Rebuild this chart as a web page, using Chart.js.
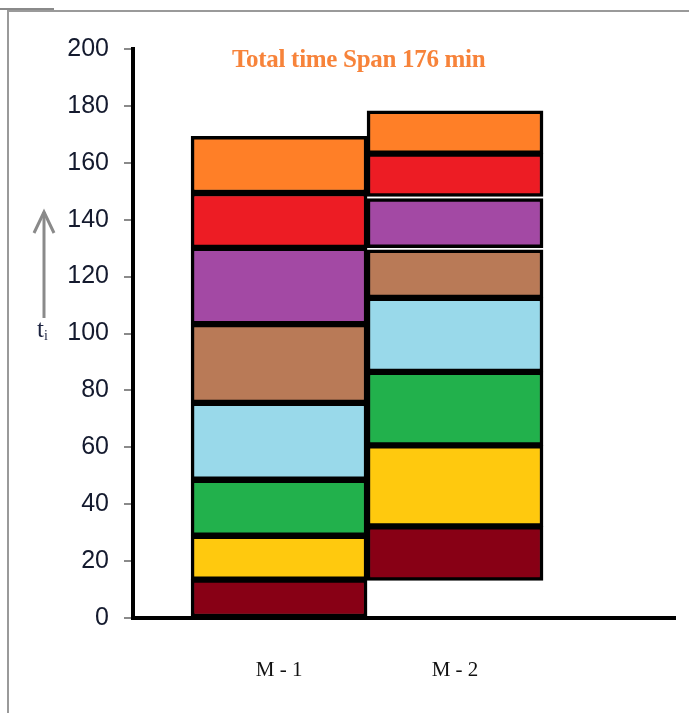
<!DOCTYPE html>
<html>
<head>
<meta charset="utf-8">
<title>Gantt M-1 / M-2</title>
<script src="https://cdn.jsdelivr.net/npm/chart.js@4.4.0/dist/chart.umd.min.js"></script>
<style>
  body{margin:0;background:#fff;}
  #wrap{position:relative;width:689px;height:713px;overflow:hidden;}
  #frame{position:absolute;left:7px;top:10px;width:700px;height:720px;border-left:2px solid #9a9a9a;border-top:2px solid #9a9a9a;}
  #corner{position:absolute;left:0;top:8px;width:54px;height:2px;background:#8a8a8a;}
  #chart{position:absolute;left:0;top:0;}
  #title{position:absolute;left:232px;top:45px;font:bold 25px "Liberation Serif","Times New Roman",serif;color:#F7833A;white-space:nowrap;letter-spacing:-0.3px;}
  #arrow{position:absolute;left:30px;top:208px;}
  #ti{position:absolute;left:37px;top:315px;font:25px "Liberation Serif","Times New Roman",serif;color:#1c2340;}
  #ti sub{font-size:14px;vertical-align:-3px;}
</style>
</head>
<body>
<div id="wrap">
  <div id="frame"></div>
  <div id="corner"></div>
  <canvas id="chart" width="689" height="713"></canvas>
  <div id="title">Total time Span 176 min</div>
  <svg id="arrow" width="30" height="115">
    <line x1="14" y1="4" x2="14" y2="110" stroke="#8a8a8a" stroke-width="3"/>
    <polyline points="4,25 14,4 24,25" fill="none" stroke="#8a8a8a" stroke-width="3"/>
  </svg>
  <div id="ti">t<sub>i</sub></div>
</div>
<script>
// ==========================
// DATA
// ==========================
const machines = ["M - 1", "M - 2"];
const machineX = [1, 2];

// start / end time of each job on each machine (bottom -> top)
const m1Start = [0, 13.5, 28.9, 48.6, 75.6, 103.3, 130.1, 149.4];
const m1End   = [13.5, 28.9, 48.6, 75.6, 103.3, 130.1, 149.4, 169.3];
const m2Start = [13.2, 32.2, 60.7, 86.5, 112.5, 130.2, 148.2, 163.2];
const m2End   = [32.2, 60.7, 86.5, 112.5, 129.4, 147.4, 163.2, 178.3];

const yMin = 0, yMax = 200, yStep = 20;

const jobColors = ["#880015", "#FFC90E", "#22B14C", "#99D9EA", "#B97A57", "#A349A4", "#ED1C24", "#FF7F27"];

// ==========================
// CHART
// ==========================
const datasets = jobColors.map((c, i) => ({
  data: [
    {x: machineX[0], y: [m1Start[i], m1End[i]]},
    {x: machineX[1], y: [m2Start[i], m2End[i]]}
  ],
  backgroundColor: c,
  borderColor: "#000",
  borderWidth: 3.5,
  borderSkipped: false,
  grouped: false,
  categoryPercentage: 1,
  barPercentage: 1
}));

new Chart(document.getElementById("chart"), {
  type: "bar",
  data: {datasets},
  options: {
    responsive: false,
    animation: false,
    layout: {padding: {top: 49, right: 14, left: 0, bottom: 0}},
    plugins: {legend: {display: false}, tooltip: {enabled: false}},
    scales: {
      x: {
        type: "linear",
        offset: false,
        min: 0.17,
        max: 3.25,
        afterBuildTicks: s => { s.ticks = machineX.map(v => ({value: v})); },
        afterFit: s => { s.height = 95; },
        grid: {display: false, drawTicks: false},
        border: {display: true, color: "#000", width: 4},
        ticks: {
          padding: 40,
          color: "#111",
          font: {family: "'Liberation Serif', 'Times New Roman', serif", size: 21},
          callback: (v, i) => machines[i]
        }
      },
      y: {
        min: yMin,
        max: yMax,
        afterFit: s => { s.width = 133; },
        grid: {drawOnChartArea: false, drawTicks: true, tickLength: 9, color: "#8a8a8a", lineWidth: 2},
        border: {display: true, color: "#000", width: 4},
        ticks: {
          stepSize: yStep,
          padding: 15,
          color: "#141a2e",
          font: {family: "'Liberation Sans', Arial, sans-serif", size: 25}
        }
      }
    }
  }
});
</script>
</body>
</html>
